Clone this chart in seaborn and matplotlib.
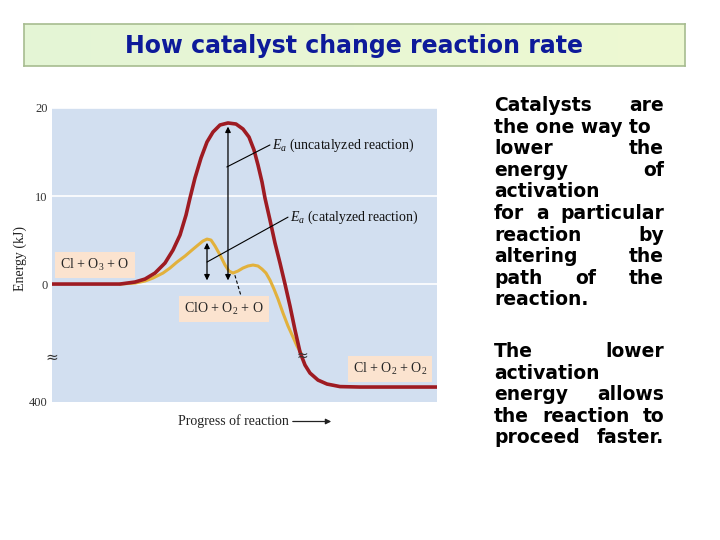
import numpy as np
import pandas as pd
import matplotlib
matplotlib.use("Agg")
import matplotlib.pyplot as plt
import seaborn as sns
from matplotlib.patches import FancyArrowPatch
from matplotlib.colors import LinearSegmentedColormap

# ---------------- data ----------------
# x: progress of reaction (0-100), y: energy in chart units (0 = reactants, 20 = top)
progress_uncat = [0, 17.66, 21.56, 24.16, 26.75, 29.35, 31.43, 33.25, 34.81, 35.84, 37.14,
                  38.70, 40.26, 41.82, 43.64, 45.71, 47.79, 49.61, 51.17, 52.47, 53.51,
                  54.55, 55.32, 56.62, 57.92, 59.22, 60.52, 61.82, 63.12, 64.42, 65.71,
                  67.01, 69.09, 71.43, 74.81, 80.0, 100]
energy_uncat = [0, 0, 0.23, 0.57, 1.25, 2.39, 3.86, 5.57, 7.84, 9.77, 12.05,
                14.32, 16.14, 17.27, 18.07, 18.30, 18.18, 17.61, 16.70, 15.23, 13.52,
                11.59, 9.77, 7.27, 4.66, 2.39, 0, -2.5, -5.23, -7.73, -9.2,
                -10.11, -10.91, -11.36, -11.65, -11.7, -11.7]

progress_cat = [17.66, 21.56, 24.16, 26.23, 28.83, 30.65, 32.47, 34.55, 36.36, 37.92,
                39.22, 40.26, 41.30, 42.34, 43.64, 44.94, 45.97, 47.01, 48.31, 49.61,
                50.91, 52.21, 53.51, 54.55, 55.58, 56.62, 57.66, 58.70, 60.0, 61.30,
                62.60, 63.64, 64.68]
energy_cat = [0, 0.11, 0.34, 0.68, 1.25, 1.82, 2.5, 3.18, 3.86, 4.43,
              4.89, 5.11, 5.0, 4.32, 3.3, 2.16, 1.48, 1.25, 1.48, 1.82,
              2.05, 2.16, 2.05, 1.7, 1.25, 0.45, -0.57, -1.7, -3.3, -4.77,
              -6.02, -7.05, -7.84]

ytick_values = [20, 10, 0, -13.4]
ytick_labels = ["20", "10", "0", "400"]

title = "How catalyst change reaction rate"
para1 = [("Catalysts are", True), ("the one way to", False), ("lower the", True),
         ("energy of", True), ("activation", False), ("for a particular", True),
         ("reaction by", True), ("altering the", True), ("path of the", True),
         ("reaction.", False)]
para2 = [("The lower", True), ("activation", False), ("energy allows", True),
         ("the reaction to", True), ("proceed faster.", True)]

# ---------------- style ----------------
sns.set_theme(style="white")
plt.rcParams['font.family'] = ['DejaVu Sans']
plt.rcParams['mathtext.fontset'] = 'custom'
plt.rcParams['mathtext.rm'] = 'Liberation Serif'
plt.rcParams['mathtext.it'] = 'Liberation Serif:italic'

W, H = 720, 540
DPI = 100
fig = plt.figure(figsize=(7.2, 5.4), dpi=DPI)
fig.patch.set_facecolor('white')

def fx(px):
    return px / W

def fy(py):
    return 1 - py / H

# ---------------- title box ----------------
tax = fig.add_axes([fx(24), fy(66), fx(685) - fx(24), fy(24) - fy(66)])
cmap = LinearSegmentedColormap.from_list("g", ["#E4F5D6", "#EEF9D2"])
tax.imshow(np.linspace(0, 1, 256).reshape(1, -1), aspect='auto', cmap=cmap,
           extent=[0, 1, 0, 1])
tax.set_xticks([]); tax.set_yticks([])
for s in tax.spines.values():
    s.set_color('#A7BC90'); s.set_linewidth(1.2)
fig.text(fx(354), fy(46), title, ha='center', va='center', fontsize=17,
         fontweight='bold', color='#0D1A9A', family='DejaVu Sans')

# ---------------- chart ----------------
RED = '#9E1B22'
YEL = '#E2B13C'
ax = fig.add_axes([fx(52), fy(402), fx(437) - fx(52), fy(108) - fy(402)])
ax.set_facecolor('#D2DFF0')
ax.set_xlim(0, 100)
ax.set_ylim(-13.4, 20.0)
ax.set_axisbelow(True)
for s in ax.spines.values():
    s.set_visible(False)
for gv in [20, 10, 0]:
    ax.axhline(gv, color='white', lw=1.2, zorder=0.5)

df_cat = pd.DataFrame({"progress": progress_cat, "energy": energy_cat})
df_unc = pd.DataFrame({"progress": progress_uncat, "energy": energy_uncat})
sns.lineplot(data=df_cat, x="progress", y="energy", ax=ax, color=YEL, lw=2.2,
             sort=False, estimator=None, zorder=3)
sns.lineplot(data=df_unc, x="progress", y="energy", ax=ax, color=RED, lw=2.6,
             sort=False, estimator=None, zorder=4)

ax.set_xticks([])
ax.set_yticks(ytick_values)
ax.set_yticklabels(ytick_labels, family='Liberation Serif', fontsize=9, color='#333333')
ax.tick_params(axis='y', length=0, pad=3)
ax.set_xlabel(""); ax.set_ylabel("")

# activation energy arrows
iu = int(np.argmax(energy_uncat))
ic = int(np.argmax(energy_cat))
xu, yu = progress_uncat[iu], energy_uncat[iu]
xc, yc = progress_cat[ic], energy_cat[ic]
for xa, ya in [(xu, yu), (xc, yc)]:
    ax.add_patch(FancyArrowPatch((xa, 0.1), (xa, ya - 0.1), arrowstyle='<|-|>',
                                 mutation_scale=8, lw=0.9, color='black', zorder=5))

# leader lines and labels
ax.plot([xu - 0.3, 56.6], [13.3, 15.8], color='black', lw=0.8, zorder=5)
ax.text(57.1, 15.8, "$E_a$ (uncatalyzed reaction)", fontsize=10,
        family='Liberation Serif', va='center', ha='left', color='#111111')
ax.plot([xc, 61.3], [2.5, 7.6], color='black', lw=0.8, zorder=5)
ax.text(61.8, 7.6, "$E_a$ (catalyzed reaction)", fontsize=10,
        family='Liberation Serif', va='center', ha='left', color='#111111')
ax.plot([47.5, 49.1], [1.0, -1.36], color='black', lw=0.8, ls=(0, (3, 2)), zorder=5)

box = dict(boxstyle='square,pad=0.38', facecolor='#FBE3CF', edgecolor='none')
ax.text(11.2, 2.16, "Cl + O$_3$ + O", fontsize=10, family='Liberation Serif',
        ha='center', va='center', bbox=box, zorder=6)
ax.text(44.7, -2.84, "ClO + O$_2$ + O", fontsize=10, family='Liberation Serif',
        ha='center', va='center', bbox=box, zorder=6)
ax.text(87.8, -9.66, "Cl + O$_2$ + O$_2$", fontsize=10, family='Liberation Serif',
        ha='center', va='center', bbox=box, zorder=6)

# axis-break marks
ax.text(0, -8.3, "≈", fontsize=11, ha='center', va='center', clip_on=False,
        color='#333333', zorder=6)
ax.text(64.9, -8.2, "≈", fontsize=10, ha='center', va='center', color='#333333',
        zorder=6)

# axis labels
fig.text(fx(20), fy(258), "Energy (kJ)", rotation=90, ha='center', va='center',
         fontsize=10, family='Liberation Serif', color='#222222')
fig.text(fx(178), fy(421), "Progress of reaction", ha='left', va='center',
         fontsize=10, family='Liberation Serif', color='#222222')
fig.add_artist(FancyArrowPatch((fx(290), fy(421.5)), (fx(334), fy(421.5)),
                               transform=fig.transFigure, arrowstyle='-|>',
                               mutation_scale=8, lw=0.9, color='#222222'))

# ---------------- justified paragraph ----------------
renderer = fig.canvas.get_renderer()

def text_width(s, fs):
    t = fig.text(0, 0, s, fontsize=fs, fontweight='bold', family='DejaVu Sans')
    w = t.get_window_extent(renderer).width
    t.remove()
    return w

LEFT, RIGHT = 494, 664
fs = 13.5
wmax = text_width("for a particular", fs)
if wmax > RIGHT - LEFT:
    fs = fs * (RIGHT - LEFT) / wmax

def draw_line(s, justify, base_y):
    if not justify:
        fig.text(fx(LEFT), fy(base_y), s, fontsize=fs, fontweight='bold',
                 family='DejaVu Sans', ha='left', va='baseline', color='black')
        return
    words = s.split()
    widths = [text_width(w, fs) for w in words]
    gap = (RIGHT - LEFT - sum(widths)) / max(len(words) - 1, 1)
    x = LEFT
    for w, wd in zip(words, widths):
        fig.text(fx(x), fy(base_y), w, fontsize=fs, fontweight='bold',
                 family='DejaVu Sans', ha='left', va='baseline', color='black')
        x += wd + gap

for k, (s, j) in enumerate(para1):
    draw_line(s, j, 111 + 21.6 * k)
for k, (s, j) in enumerate(para2):
    draw_line(s, j, 357.3 + 21.5 * k)

fig.savefig("out.png", dpi=DPI, facecolor='white')
